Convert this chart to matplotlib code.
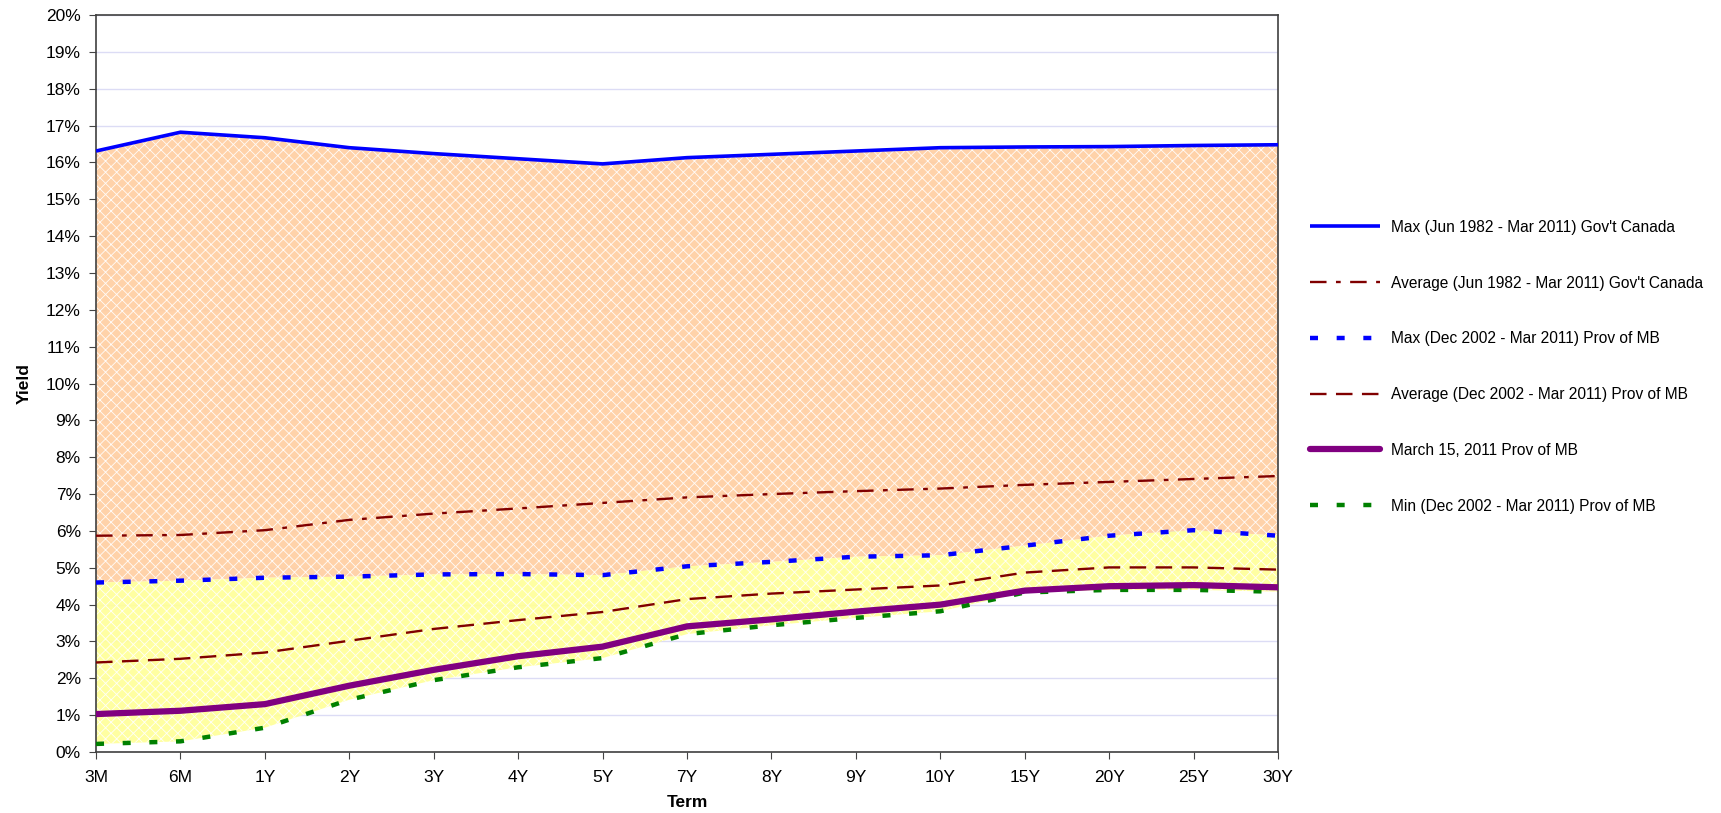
import matplotlib
matplotlib.use('Agg')
import matplotlib.pyplot as plt
import numpy as np

terms = ['3M', '6M', '1Y', '2Y', '3Y', '4Y', '5Y', '7Y', '8Y', '9Y', '10Y', '15Y', '20Y', '25Y', '30Y']

max_gov = [16.31, 16.82, 16.67, 16.40, 16.24, 16.10, 15.96, 16.13, 16.22, 16.31, 16.40, 16.42, 16.43, 16.46, 16.48]
avg_gov = [5.87, 5.89, 6.02, 6.30, 6.47, 6.61, 6.76, 6.91, 7.00, 7.08, 7.15, 7.25, 7.33, 7.41, 7.49]
max_prov = [4.60, 4.65, 4.73, 4.76, 4.82, 4.83, 4.80, 5.04, 5.16, 5.30, 5.34, 5.60, 5.87, 6.02, 5.87]
avg_prov = [2.43, 2.53, 2.70, 3.02, 3.34, 3.58, 3.80, 4.15, 4.30, 4.41, 4.52, 4.87, 5.01, 5.01, 4.95]
mar15_prov = [1.03, 1.12, 1.30, 1.80, 2.23, 2.60, 2.86, 3.41, 3.60, 3.81, 4.00, 4.38, 4.50, 4.53, 4.47]
min_prov = [0.22, 0.29, 0.66, 1.42, 1.95, 2.30, 2.55, 3.20, 3.44, 3.64, 3.82, 4.33, 4.40, 4.40, 4.35]

labels = ['Max (Jun 1982 - Mar 2011) Gov\'t Canada',
          'Average (Jun 1982 - Mar 2011) Gov\'t Canada',
          'Max (Dec 2002 - Mar 2011) Prov of MB',
          'Average (Dec 2002 - Mar 2011) Prov of MB',
          'March 15, 2011 Prov of MB',
          'Min (Dec 2002 - Mar 2011) Prov of MB']

plt.rcParams['font.family'] = ['Liberation Sans', 'DejaVu Sans']
plt.rcParams['hatch.color'] = 'white'
plt.rcParams['hatch.linewidth'] = 0.6

fig = plt.figure(figsize=(17.21, 8.13), dpi=100)
ax = fig.add_axes([0.0558, 0.075, 0.6868, 0.9065])

x = np.arange(len(terms))

# shaded bands (area chart look)
ax.fill_between(x, max_prov, max_gov, facecolor='#FFCEA2', edgecolor='white',
                hatch='xxx', linewidth=0, alpha=0.92, zorder=1)
ax.fill_between(x, min_prov, max_prov, facecolor='#FFFF99', edgecolor='white',
                hatch='xxx', linewidth=0, alpha=0.92, zorder=1)

ax.plot(x, max_gov, color='#0000FF', lw=2.6, solid_capstyle='butt', label=labels[0], zorder=3)
ax.plot(x, avg_gov, color='#800000', lw=1.7, dashes=(7, 4, 2, 4), label=labels[1], zorder=3)
ax.plot(x, max_prov, color='#0000FF', lw=3.2, dashes=(1.8, 4.2), label=labels[2], zorder=3)
ax.plot(x, avg_prov, color='#800000', lw=1.7, dashes=(7, 4), label=labels[3], zorder=3)
ax.plot(x, mar15_prov, color='#800080', lw=4.5, solid_capstyle='round', label=labels[4], zorder=4)
ax.plot(x, min_prov, color='#008000', lw=3.2, dashes=(1.8, 4.2), label=labels[5], zorder=3)

ax.set_xlim(0, len(terms) - 1)
ax.set_ylim(0, 20)
ax.set_xticks(x)
ax.set_xticklabels(terms, fontsize=12.5)
ax.set_yticks(np.arange(0, 21, 1))
ax.set_yticklabels([str(v) + '%' for v in range(21)], fontsize=12.5)
ax.grid(axis='y', color='#DCDCF5', lw=1, zorder=0)
ax.set_axisbelow(True)
ax.tick_params(axis='both', direction='out', length=5, color='#444444')
ax.tick_params(axis='x', pad=8)
ax.tick_params(axis='y', pad=6)

for s in ax.spines.values():
    s.set_color('#404040')
    s.set_linewidth(1.2)

ax.set_xlabel('Term', fontsize=12.5, fontweight='bold', labelpad=7)
ax.set_ylabel('Yield', fontsize=12.5, fontweight='bold', labelpad=10)

leg = ax.legend(loc='upper left', bbox_to_anchor=(1.0155, 0.741), frameon=False,
                fontsize=11.2, labelspacing=2.62, handlelength=4.5, handletextpad=0.7)

plt.savefig('out.png', dpi=100)
